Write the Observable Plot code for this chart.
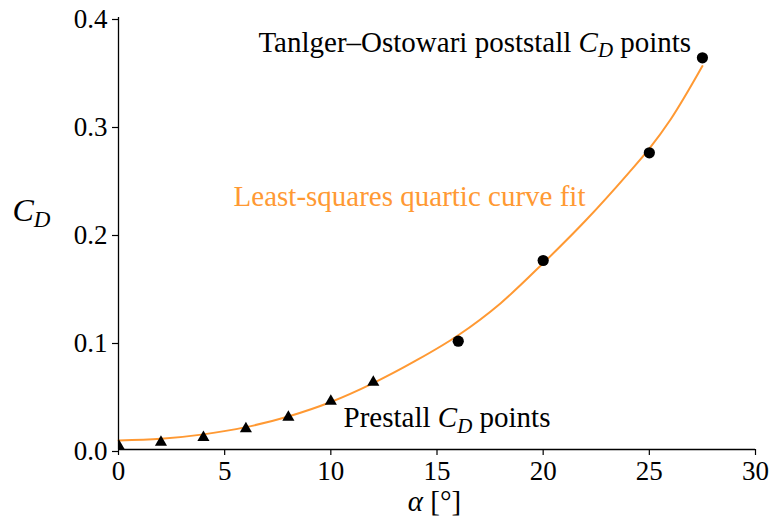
<!DOCTYPE html>
<html><head><meta charset="utf-8">
<script src="https://cdn.jsdelivr.net/npm/d3@7"></script>
<script src="https://cdn.jsdelivr.net/npm/@observablehq/plot@0.6"></script>
<style>
  body { margin: 0; background: #fff; }
  #chart svg { display: block; }
</style>
</head><body><div id="chart"></div>
<script>
// Prestall drag points (triangles)
const prestallAlpha = [0, 2, 4, 6, 8, 10, 12];
const prestallCD = [0.0053, 0.0083, 0.0127, 0.0207, 0.0315, 0.0463, 0.0639];
// Tangler–Ostowari poststall points (circles)
const poststallAlpha = [16, 20, 25, 27.5];
const poststallCD = [0.1003, 0.175, 0.2747, 0.3627];
// Least-squares quartic fit curve
const fitAlpha = [0, 2, 4, 6, 8, 10, 12, 14, 16, 18, 20, 22, 24, 25, 26, 27.5];
const fitCD = [0.0083, 0.0099, 0.014, 0.0207, 0.0306, 0.044, 0.0615, 0.0822, 0.1058, 0.1355, 0.1725, 0.212, 0.2555, 0.2785, 0.3055, 0.355];
// Ticks
const xTicks = [0, 5, 10, 15, 20, 25, 30];
const yTicks = [0, 0.1, 0.2, 0.3, 0.4];

const orange = "#ff9933";
const prestall = prestallAlpha.map((a, i) => ({alpha: a, cd: prestallCD[i]}));
const poststall = poststallAlpha.map((a, i) => ({alpha: a, cd: poststallCD[i]}));
const fit = fitAlpha.map((a, i) => ({alpha: a, cd: fitCD[i]}));

const chart = Plot.plot({
  width: 769,
  height: 529,
  marginLeft: 118,
  marginRight: 14,
  marginTop: 17,
  marginBottom: 80,
  style: {fontFamily: "'Liberation Serif', 'Times New Roman', serif", fontSize: "27px", color: "#000", background: "#fff", overflow: "visible"},
  x: {domain: [0, 30], label: null},
  y: {domain: [0, 0.4], label: null},
  marks: [
    Plot.axisX({ticks: xTicks, tickSize: 6, tickPadding: 5, label: null, fontSize: 27, strokeWidth: 1.2}),
    Plot.axisY({ticks: yTicks, tickSize: 6, tickPadding: 5, label: null, fontSize: 27, tickFormat: d3.format(".1f"), strokeWidth: 1.2, dy: 2}),
    Plot.ruleX([0], {stroke: "#000", strokeWidth: 1.3}),
    Plot.ruleY([0], {stroke: "#000", strokeWidth: 1.3}),
    Plot.line(fit, {x: "alpha", y: "cd", stroke: orange, strokeWidth: 2, curve: "monotone-x"}),
    Plot.dot(prestall, {x: "alpha", y: "cd", symbol: "triangle", r: 4.5, fill: "#000", stroke: "none", dy: 1.7, clip: true}),
    Plot.dot(poststall, {x: "alpha", y: "cd", symbol: "circle", r: 5.6, fill: "#000", stroke: "none", clip: true}),
    Plot.text(["Tanlger–Ostowari poststall C_D points"], {x: () => 6.59, y: () => 0.3685, textAnchor: "start", lineAnchor: "bottom", fontSize: 29, fill: "#000"}),
    Plot.text(["Least-squares quartic curve fit"], {x: () => 5.42, y: () => 0.2259, textAnchor: "start", lineAnchor: "bottom", fontSize: 29, fill: orange}),
    Plot.text(["Prestall C_D points"], {x: () => 10.6, y: () => 0.0208, textAnchor: "start", lineAnchor: "bottom", fontSize: 29, fill: "#000"}),
    Plot.text(["C_D"], {frameAnchor: "left", y: () => 0.212, dx: -106, textAnchor: "start", lineAnchor: "bottom", fontSize: 32, fill: "#000"}),
    Plot.text(["α [°]"], {frameAnchor: "bottom", x: () => 14.88, dy: 61, textAnchor: "middle", lineAnchor: "bottom", fontSize: 29, fill: "#000"})
  ]
});
document.getElementById("chart").appendChild(chart);

// Rich text: italic C with subscript D, italic alpha
const NS = "http://www.w3.org/2000/svg";
function tspan(txt, attrs) {
  const t = document.createElementNS(NS, "tspan");
  t.textContent = txt;
  for (const k in attrs) t.setAttribute(k, attrs[k]);
  return t;
}
chart.querySelectorAll("text").forEach(el => {
  const s = el.textContent;
  if (!s.includes("C_D") && !s.includes("α")) return;
  const f = parseFloat(getComputedStyle(el).fontSize) || 29;
  const sub = (0.2 * f).toFixed(1);
  while (el.firstChild) el.removeChild(el.firstChild);
  if (s.includes("C_D")) {
    const [pre, post] = s.split("C_D");
    if (pre) el.appendChild(tspan(pre, {}));
    el.appendChild(tspan("C", {"font-style": "italic"}));
    el.appendChild(tspan("D", {"font-style": "italic", "font-size": (0.72 * f).toFixed(1) + "px", dy: sub}));
    if (post) el.appendChild(tspan(post, {dy: -sub}));
  } else {
    const [pre, post] = s.split("α");
    if (pre) el.appendChild(tspan(pre, {}));
    el.appendChild(tspan("α", {"font-style": "italic"}));
    if (post) el.appendChild(tspan(post, {}));
  }
});
</script>
</body></html>
